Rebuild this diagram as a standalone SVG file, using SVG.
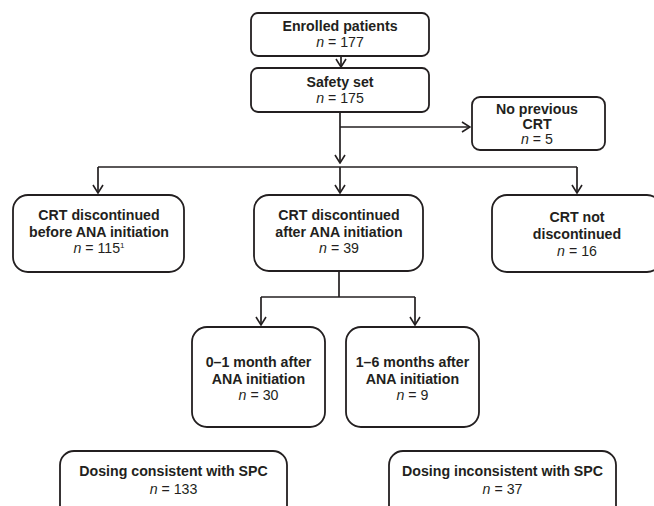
<svg xmlns="http://www.w3.org/2000/svg" width="654" height="506" viewBox="0 0 654 506">
<style>
.box{fill:#fff;stroke:#231f20;stroke-width:1.8}
.t{font-family:"Liberation Sans",Arial,sans-serif;font-size:14.2px;fill:#231f20;text-anchor:middle}
.b{font-weight:bold}
.i{font-style:italic}
.c{fill:none;stroke:#231f20;stroke-width:1.7}
</style>
<defs>
<marker id="arr" viewBox="0 0 10 12" refX="9" refY="6" markerWidth="10" markerHeight="12" markerUnits="userSpaceOnUse" orient="auto">
<path d="M1,1 L9,6 L1,11" fill="none" stroke="#231f20" stroke-width="1.6"/>
</marker>
</defs>
<rect width="654" height="506" fill="#fff"/>
<g id="connectors">
<path class="c" d="M341 56 V67" marker-end="url(#arr)"/>
<path class="c" d="M340 112 V163" marker-end="url(#arr)"/>
<path class="c" d="M340 127 H470" marker-end="url(#arr)"/>
<path class="c" d="M98 167 H577"/>
<path class="c" d="M98 167 V193" marker-end="url(#arr)"/>
<path class="c" d="M340 167 V193" marker-end="url(#arr)"/>
<path class="c" d="M577 167 V193" marker-end="url(#arr)"/>
<path class="c" d="M339 271 V297"/>
<path class="c" d="M261 297 H415"/>
<path class="c" d="M261 297 V325" marker-end="url(#arr)"/>
<path class="c" d="M415 297 V325" marker-end="url(#arr)"/>
</g>
<g id="enrolled">
<rect class="box" x="251" y="13" width="178" height="43" rx="7"/>
<text class="t b" x="340" y="31">Enrolled patients</text>
<text class="t" x="340" y="47"><tspan class="i">n</tspan> = 177</text>
</g>
<g id="safety">
<rect class="box" x="251" y="68" width="178" height="44" rx="7"/>
<text class="t b" x="340" y="87">Safety set</text>
<text class="t" x="340" y="103"><tspan class="i">n</tspan> = 175</text>
</g>
<g id="noprev">
<rect class="box" x="472" y="97" width="133" height="53" rx="8"/>
<text class="t b" x="537" y="113.5" font-size="13.8">No previous</text>
<text class="t b" x="537" y="128.5" font-size="13.8">CRT</text>
<text class="t" x="537" y="143.5" font-size="13.8"><tspan class="i">n</tspan> = 5</text>
</g>
<g id="before">
<rect class="box" x="13" y="195" width="171" height="77" rx="15"/>
<text class="t b" x="99" y="220">CRT discontinued</text>
<text class="t b" x="99" y="237">before ANA initiation</text>
<text class="t" x="99" y="253"><tspan class="i">n</tspan> = 115<tspan font-size="8" dy="-5">1</tspan></text>
</g>
<g id="after">
<rect class="box" x="254" y="195" width="169" height="76" rx="15"/>
<text class="t b" x="339" y="220">CRT discontinued</text>
<text class="t b" x="339" y="237">after ANA initiation</text>
<text class="t" x="339" y="253"><tspan class="i">n</tspan> = 39</text>
</g>
<g id="notdisc">
<rect class="box" x="492" y="195" width="170" height="77" rx="15"/>
<text class="t b" x="577" y="222">CRT not</text>
<text class="t b" x="577" y="239">discontinued</text>
<text class="t" x="577" y="256"><tspan class="i">n</tspan> = 16</text>
</g>
<g id="m01">
<rect class="box" x="192" y="327" width="133" height="100" rx="15"/>
<text class="t b" x="258.5" y="367">0–1 month after</text>
<text class="t b" x="258.5" y="384">ANA initiation</text>
<text class="t" x="258.5" y="400"><tspan class="i">n</tspan> = 30</text>
</g>
<g id="m16">
<rect class="box" x="346" y="327" width="133" height="100" rx="15"/>
<text class="t b" x="412.5" y="367">1–6 months after</text>
<text class="t b" x="412.5" y="384">ANA initiation</text>
<text class="t" x="412.5" y="400"><tspan class="i">n</tspan> = 9</text>
</g>
<g id="consistent">
<rect class="box" x="60" y="451" width="227" height="70" rx="14"/>
<text class="t b" x="173.5" y="476">Dosing consistent with SPC</text>
<text class="t" x="173.5" y="494"><tspan class="i">n</tspan> = 133</text>
</g>
<g id="inconsistent">
<rect class="box" x="389" y="451" width="227" height="70" rx="14"/>
<text class="t b" x="502.5" y="476">Dosing inconsistent with SPC</text>
<text class="t" x="502.5" y="494"><tspan class="i">n</tspan> = 37</text>
</g>
</svg>
